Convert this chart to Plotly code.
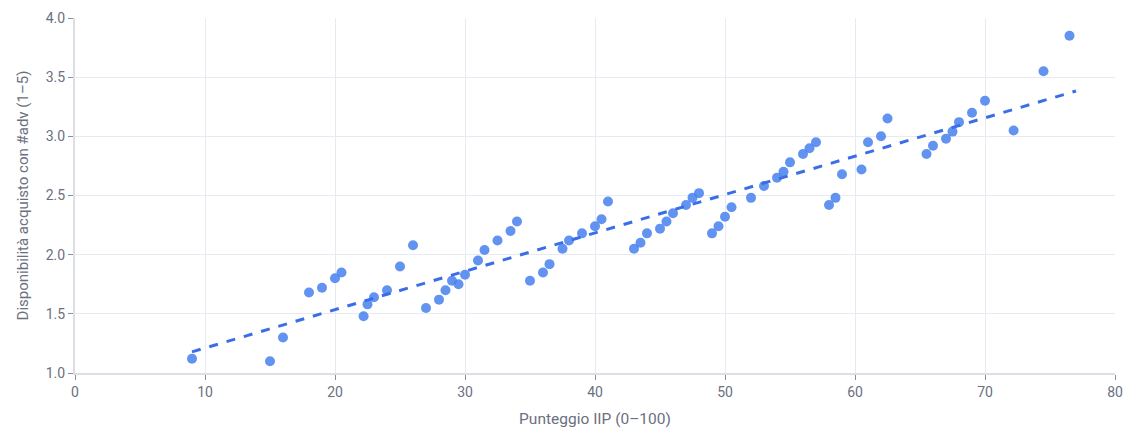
import numpy as np
import plotly.graph_objects as go

# IIP score (0-100) per respondent
iip_score = [9, 15, 16, 18, 19, 20, 20.5, 22.2, 22.5, 23, 24, 25, 26, 27, 28, 28.5,
             29, 29.5, 30, 31, 31.5, 32.5, 33.5, 34, 35, 36, 36.5, 37.5, 38, 39,
             40, 40.5, 41, 43, 43.5, 44, 45, 45.5, 46, 47, 47.5, 48, 49, 49.5,
             50, 50.5, 52, 53, 54, 54.5, 55, 56, 56.5, 57, 58, 58.5, 59, 60.5,
             61, 62, 62.5, 65.5, 66, 67, 67.5, 68, 69, 70, 72.2, 74.5, 76.5]

# Willingness to buy with #adv (1-5)
willingness = [1.12, 1.10, 1.30, 1.68, 1.72, 1.80, 1.85, 1.48, 1.58, 1.64, 1.70, 1.90,
               2.08, 1.55, 1.62, 1.70, 1.78, 1.75, 1.83, 1.95, 2.04, 2.12, 2.20, 2.28,
               1.78, 1.85, 1.92, 2.05, 2.12, 2.18, 2.24, 2.30, 2.45, 2.05, 2.10, 2.18,
               2.22, 2.28, 2.35, 2.42, 2.48, 2.52, 2.18, 2.24, 2.32, 2.40, 2.48, 2.58,
               2.65, 2.70, 2.78, 2.85, 2.90, 2.95, 2.42, 2.48, 2.68, 2.72, 2.95, 3.00,
               3.15, 2.85, 2.92, 2.98, 3.04, 3.12, 3.20, 3.30, 3.05, 3.55, 3.85]

# Span of the fitted trend line
trend_range = [9, 77]

x_ticks = [0, 10, 20, 30, 40, 50, 60, 70, 80]
y_ticks = [1.0, 1.5, 2.0, 2.5, 3.0, 3.5, 4.0]

slope, intercept = np.polyfit(iip_score, willingness, 1)
trend_x = np.array(trend_range, dtype=float)
trend_y = slope * trend_x + intercept

font_color = "#6b7080"
grid_color = "#e8eaf2"

fig = go.Figure()
fig.add_trace(go.Scatter(
    x=iip_score, y=willingness, mode="markers",
    marker=dict(size=10, color="rgba(72,128,238,0.85)", line=dict(width=0)),
    showlegend=False,
))
fig.add_trace(go.Scatter(
    x=trend_x, y=trend_y, mode="lines",
    line=dict(color="#3a6ee8", width=3, dash="dash"),
    showlegend=False,
))

fig.update_layout(
    width=1125, height=429,
    margin=dict(l=75, r=10, t=18, b=56),
    paper_bgcolor="white", plot_bgcolor="white",
    font=dict(family="Roboto, sans-serif", size=14, color=font_color),
)
fig.update_xaxes(
    range=[0, 80], tickvals=x_ticks, ticktext=[str(v) for v in x_ticks],
    showgrid=True, gridcolor=grid_color, gridwidth=1,
    showline=True, linecolor="#dcdee6", linewidth=2,
    ticks="outside", ticklen=5, tickcolor="#8a8e9a",
    zeroline=False, automargin=False,
    title=dict(text="Punteggio IIP (0–100)", font=dict(size=15.5, color=font_color), standoff=14),
    tickfont=dict(size=14, color=font_color),
)
fig.update_yaxes(
    range=[1.0, 4.0], tickvals=y_ticks, ticktext=[f"{v:.1f}" for v in y_ticks],
    showgrid=True, gridcolor=grid_color, gridwidth=1,
    showline=True, linecolor="#dcdee6", linewidth=2,
    ticks="outside", ticklen=5, tickcolor="#8a8e9a",
    zeroline=False, automargin=False,
    title=dict(text="Disponibilità acquisto con #adv (1–5)", font=dict(size=15, color=font_color), standoff=14),
    tickfont=dict(size=14, color=font_color),
)

fig.write_html("out.html")
